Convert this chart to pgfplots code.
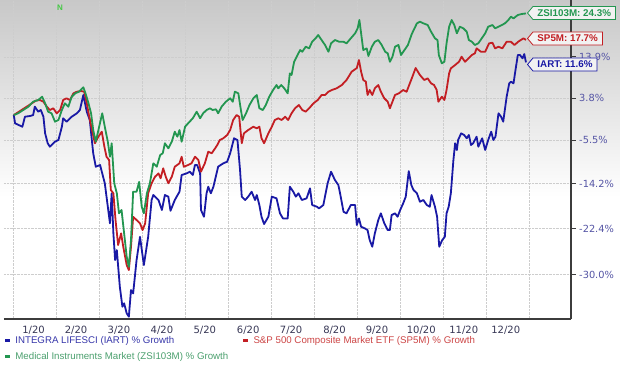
\documentclass[border=0pt]{standalone}
\usepackage{pgfplots}
\usepackage{pgfplotstable}
\pgfplotsset{compat=1.18}
\usepackage{fontspec}
\setmainfont{Liberation Sans}
\newfontfamily\dejavu{DejaVu Sans}
\usetikzlibrary{shapes.symbols}
\definecolor{cblue}{RGB}{25,25,165}
\definecolor{cred}{RGB}{195,30,35}
\definecolor{cgreen}{RGB}{35,150,80}
\definecolor{lblue}{RGB}{55,55,170}
\definecolor{lred}{RGB}{205,70,70}
\definecolor{lgreen}{RGB}{75,160,110}
\definecolor{ytc}{RGB}{85,85,165}
\definecolor{xtc}{RGB}{55,55,85}
\definecolor{axc}{RGB}{60,60,60}
\definecolor{gridc}{RGB}{205,205,205}
\definecolor{bgtop}{RGB}{200,200,200}
\definecolor{bgmid}{RGB}{228,228,228}
\pgfdeclareverticalshading{bgshade}{100bp}{color(0bp)=(white); color(25bp)=(white); color(48bp)=(white); color(61bp)=(bgmid); color(75bp)=(bgtop); color(100bp)=(bgtop)}

\pgfplotstableread{
m v
0 0
0.03 -1.82
0.20 -2.56
0.26 -0.36
0.38 -0.20
0.45 0.00
0.49 1.89
0.57 0.76
0.63 1.14
0.69 -0.36
0.73 -3.99
0.79 -6.10
0.84 -6.81
0.96 -5.77
1.04 -5.41
1.12 -2.56
1.15 -0.71
1.23 -1.46
1.35 -0.36
1.47 0.40
1.54 1.14
1.62 4.59
1.70 0.76
1.77 -1.09
1.85 -8.18
1.91 -10.89
2.01 -10.55
2.06 -12.20
2.12 -14.13
2.20 -19.11
2.24 -21.47
2.28 -16.03
2.32 -23.21
2.36 -27.66
2.40 -26.02
2.47 -31.85
2.53 -34.82
2.57 -34.33
2.63 -35.78
2.68 -36.26
2.73 -32.35
2.78 -32.85
2.86 -27.66
2.94 -23.79
3.03 -28.46
3.13 -23.79
3.21 -17.28
3.25 -16.35
3.37 -17.28
3.45 -19.11
3.52 -16.35
3.60 -16.66
3.65 -19.24
3.75 -17.28
3.86 -15.73
3.91 -12.53
4.03 -12.20
4.10 -11.88
4.17 -12.53
4.22 -10.55
4.27 -10.55
4.34 -12.20
4.36 -19.11
4.43 -20.31
4.49 -16.03
4.53 -14.78
4.59 -16.03
4.65 -14.78
4.76 -10.89
4.88 -10.21
4.97 -9.89
5.04 -8.18
5.13 -5.05
5.21 -5.41
5.27 -11.55
5.31 -16.66
5.39 -17.28
5.46 -16.66
5.54 -15.73
5.62 -17.28
5.66 -16.35
5.72 -18.20
5.77 -20.31
5.83 -21.59
5.93 -20.31
6.01 -16.66
6.12 -16.97
6.20 -19.71
6.27 -20.60
6.38 -20.60
6.43 -14.78
6.51 -15.73
6.57 -16.66
6.63 -16.03
6.71 -17.28
6.82 -16.97
6.90 -15.09
6.95 -18.20
7.06 -18.51
7.11 -18.81
7.21 -18.20
7.31 -14.13
7.39 -11.88
7.48 -13.50
7.56 -14.46
7.60 -16.03
7.68 -19.42
7.75 -19.71
7.85 -18.20
7.95 -18.20
7.99 -21.77
8.04 -20.60
8.09 -22.07
8.18 -22.36
8.24 -22.64
8.29 -24.35
8.35 -25.47
8.41 -23.21
8.49 -20.89
8.55 -19.71
8.63 -21.47
8.71 -22.64
8.76 -22.64
8.80 -20.01
8.88 -19.71
8.94 -20.31
9.00 -19.11
9.07 -17.89
9.13 -16.66
9.20 -11.77
9.26 -14.46
9.31 -15.41
9.39 -16.03
9.46 -17.59
9.54 -17.28
9.62 -18.20
9.69 -18.51
9.73 -16.35
9.81 -18.51
9.86 -20.31
9.91 -25.47
9.98 -24.35
10.04 -23.79
10.08 -19.71
10.13 -18.51
10.18 -16.03
10.24 -9.55
10.28 -6.10
10.32 -7.50
10.35 -5.41
10.42 -3.99
10.49 -4.35
10.55 -5.05
10.60 -4.35
10.65 -6.46
10.70 -6.10
10.78 -4.71
10.82 -6.81
10.91 -5.05
10.98 -7.50
11.05 -5.41
11.12 -3.64
11.17 -5.41
11.22 -4.71
11.29 0.40
11.35 -0.36
11.40 -1.46
11.48 4.19
11.54 7.35
11.58 7.74
11.64 7.35
11.68 10.18
11.74 14.37
11.79 14.37
11.85 13.52
11.89 14.62
11.93 12.5
}\iart

\pgfplotstableread{
m v
0 0
0.18 1.14
0.30 1.89
0.42 2.67
0.51 3.27
0.61 3.43
0.69 3.04
0.77 1.89
0.84 1.14
0.92 1.53
1.00 0.40
1.08 1.14
1.15 3.43
1.23 3.82
1.31 3.43
1.39 4.99
1.47 5.37
1.57 5.53
1.64 5.37
1.70 2.67
1.75 0.02
1.83 -3.64
1.89 -6.10
1.97 -4.71
2.05 -3.64
2.11 -6.81
2.16 -8.88
2.22 -9.55
2.26 -15.41
2.32 -16.03
2.37 -20.89
2.43 -25.19
2.50 -23.21
2.55 -25.47
2.63 -28.46
2.68 -29.26
2.73 -25.47
2.78 -20.31
2.86 -20.89
2.94 -21.47
3.00 -22.64
3.06 -21.47
3.13 -16.03
3.21 -14.13
3.29 -12.86
3.37 -12.20
3.42 -13.17
3.48 -11.21
3.54 -12.86
3.60 -14.13
3.68 -12.86
3.75 -10.89
3.86 -10.21
3.91 -8.88
3.96 -10.89
4.06 -10.55
4.14 -10.21
4.22 -8.88
4.30 -9.55
4.36 -11.88
4.45 -10.21
4.53 -7.85
4.61 -8.18
4.69 -7.15
4.74 -6.46
4.80 -5.41
4.88 -5.05
4.97 -4.35
5.04 -3.28
5.11 -1.09
5.19 0.02
5.25 -0.36
5.31 -6.10
5.36 -3.99
5.46 -3.28
5.58 -2.56
5.66 -2.92
5.72 -2.56
5.77 -5.05
5.83 -6.10
5.93 -3.99
6.01 -2.56
6.08 -1.09
6.16 -0.71
6.24 -1.09
6.32 -0.36
6.39 -1.09
6.47 0.40
6.55 1.53
6.64 2.28
6.72 1.14
6.80 0.76
6.88 1.53
6.98 2.67
7.08 3.43
7.17 4.59
7.25 4.59
7.33 5.37
7.41 5.77
7.52 6.17
7.64 6.95
7.75 8.16
7.87 10.18
7.99 11.09
8.04 13.10
8.09 10.18
8.14 8.16
8.20 7.76
8.24 4.59
8.29 5.77
8.35 4.59
8.41 6.17
8.49 6.95
8.55 5.37
8.63 3.82
8.71 3.04
8.76 1.53
8.82 3.04
8.88 4.59
8.97 4.99
9.07 5.77
9.15 5.37
9.27 8.56
9.36 11.09
9.46 9.37
9.56 8.16
9.64 8.56
9.72 7.35
9.79 6.95
9.85 5.77
9.89 3.04
9.97 4.19
10.03 3.43
10.08 5.77
10.14 9.77
10.18 11.01
10.28 11.84
10.37 12.66
10.43 13.94
10.51 12.66
10.59 13.52
10.67 14.37
10.74 14.80
10.78 16.08
10.88 15.21
10.98 15.21
11.07 17.39
11.15 17.55
11.21 16.08
11.29 16.51
11.38 16.08
11.48 17.81
11.58 17.81
11.66 16.95
11.75 17.81
11.87 18.71
11.93 18.3
}\spfm

\pgfplotstableread{
m v
0 0
0.10 0.40
0.22 1.14
0.34 1.89
0.45 3.04
0.57 3.43
0.66 4.19
0.73 2.67
0.80 0.76
0.88 0.40
0.96 -1.46
1.04 -1.09
1.12 1.14
1.19 2.67
1.27 1.89
1.35 4.19
1.43 4.99
1.52 5.37
1.62 6.41
1.67 4.99
1.74 2.67
1.80 0.40
1.85 -3.28
1.91 -5.77
1.98 -2.92
2.06 0.40
2.12 -2.56
2.19 -5.77
2.24 -8.88
2.28 -6.10
2.34 -14.13
2.40 -16.03
2.45 -19.71
2.51 -19.11
2.57 -23.21
2.63 -27.12
2.68 -28.73
2.73 -24.35
2.78 -15.73
2.86 -15.73
2.92 -13.86
2.98 -18.51
3.03 -19.71
3.10 -16.03
3.17 -14.13
3.25 -10.21
3.33 -10.89
3.41 -8.53
3.47 -8.18
3.52 -6.10
3.60 -7.15
3.68 -5.77
3.75 -3.64
3.81 -4.71
3.86 -3.28
3.91 -5.77
3.99 -2.56
4.06 -1.82
4.17 -0.71
4.26 0.76
4.34 -0.71
4.41 0.40
4.49 1.14
4.57 1.53
4.63 1.14
4.71 1.30
4.76 0.40
4.84 1.89
4.94 3.04
5.04 3.82
5.10 3.04
5.15 5.37
5.23 4.99
5.29 1.14
5.33 -1.09
5.41 0.40
5.49 2.28
5.58 3.82
5.66 4.59
5.72 1.53
5.80 1.14
5.87 2.28
5.95 4.19
6.04 5.77
6.12 6.95
6.16 6.17
6.23 6.95
6.30 6.17
6.38 4.99
6.43 9.77
6.47 9.37
6.53 12.66
6.61 14.37
6.67 15.65
6.72 15.21
6.80 16.51
6.88 16.08
6.95 17.81
7.03 18.71
7.09 19.59
7.17 18.26
7.25 16.95
7.33 15.21
7.39 17.39
7.48 18.26
7.58 17.81
7.68 17.81
7.75 17.39
7.85 18.71
7.95 20.05
8.01 21.40
8.05 23.67
8.09 20.05
8.14 15.65
8.22 16.08
8.26 14.12
8.34 16.51
8.41 17.81
8.49 18.26
8.57 16.95
8.65 15.21
8.71 14.80
8.76 12.66
8.82 13.94
8.88 16.51
8.96 16.95
9.02 14.37
9.10 15.65
9.18 16.95
9.27 19.86
9.39 22.76
9.46 23.20
9.54 22.76
9.64 22.29
9.72 20.48
9.81 18.71
9.87 18.26
9.90 14.37
9.97 12.26
10.03 12.66
10.08 17.39
10.14 21.83
10.20 23.67
10.26 22.29
10.32 20.05
10.39 21.83
10.47 21.40
10.55 20.48
10.60 18.26
10.67 17.81
10.74 16.95
10.82 17.39
10.90 18.71
10.98 20.05
11.05 21.83
11.15 22.29
11.21 21.40
11.29 21.83
11.37 22.29
11.44 22.76
11.52 23.67
11.58 24.59
11.64 24.12
11.74 25.06
11.83 25.34
11.93 25.5
}\zsi

\tikzset{tag/.style={signal, signal to=west, signal pointer angle=100, draw=#1, line width=0.8pt, fill=white!95!black, text=#1, font=\bfseries\fontsize{9.8}{11}\selectfont, inner xsep=4.5pt, inner ysep=3pt, anchor=west}}

\begin{document}
\begin{tikzpicture}[x=1pt,y=1pt]
\path[use as bounding box] (0,0) rectangle (620,365);
\shade[shading=bgshade] (0,0) rectangle (620,365);
\begin{axis}[
  at={(4pt,46pt)}, anchor=south west,
  scale only axis, width=566.7pt, height=319pt,
  ymode=log,
  xmin=-0.228, xmax=12.972, ymin=0.63408, ymax=1.29324,
  axis x line*=bottom, axis y line*=right,
  axis line style={draw=axc, line width=2pt},
  xtick={0.46,1.45,2.45,3.45,4.45,5.46,6.46,7.47,8.46,9.49,10.48,11.46},
  xticklabels={1/20,2/20,3/20,4/20,5/20,6/20,7/20,8/20,9/20,10/20,11/20,12/20},
  minor xtick={0,1,...,12},
  xminorgrids=true, xmajorgrids=false,
  ytick={0.700,0.776,0.858,0.945,1.038,1.139},
  yticklabels={-30.0\%,-22.4\%,-14.2\%,-5.5\%,3.8\%,13.9\%},
  yminorticks=false,
  ymajorgrids=true,
  major grid style={draw=gridc, densely dotted, line width=0.6pt},
  minor grid style={draw=gridc, densely dotted, line width=0.6pt},
  xtick style={draw=none},
  ytick style={draw=axc, line width=1pt},
  major tick length=5pt,
  tick align=outside,
  xticklabel style={font=\dejavu\fontsize{10}{11}\selectfont, text=xtc, yshift=1.5pt},
  yticklabel style={font=\dejavu\fontsize{9.8}{11}\selectfont, text=ytc},
  legend columns=2,
  legend cell align=left,
  legend style={at={(axis description cs:0,0)}, anchor=north west, yshift=-15pt,
    draw=none, fill=none, inner sep=0pt, font=\fontsize{9.7}{11}\selectfont,
    row sep=3.5pt,
    /tikz/every odd column/.append style={column sep=2pt},
    /tikz/every even column/.append style={column sep=12pt}},
  legend image code/.code={\draw[#1, line width=2.2pt] (0pt,0pt) -- (5pt,0pt);},
]
\addplot[cblue, line width=1.8pt, line join=round] table[x=m, y expr=1+\thisrow{v}/100] {\iart};
\addlegendentry{\textcolor{lblue}{INTEGRA LIFESCI (IART) \% Growth}}
\addplot[cred, line width=1.8pt, line join=round] table[x=m, y expr=1+\thisrow{v}/100] {\spfm};
\addlegendentry{\textcolor{lred}{S\&P 500 Composite Market ETF (SP5M) \% Growth}}
\addplot[cgreen, line width=1.8pt, line join=round] table[x=m, y expr=1+\thisrow{v}/100] {\zsi};
\addlegendentry{\textcolor{lgreen}{Medical Instruments Market (ZSI103M) \% Growth}}
\end{axis}
\node[tag=cgreen] at (527,352) {ZSI103M: 24.3\%};
\node[tag=cred] at (527,326.5) {SP5M: 17.7\%};
\node[tag=cblue] at (527,300.5) {IART: 11.6\%};
\node[text={rgb,255:red,70;green,200;blue,70}, font=\bfseries\fontsize{8}{9}\selectfont] at (60,357) {N};
\end{tikzpicture}
\end{document}
